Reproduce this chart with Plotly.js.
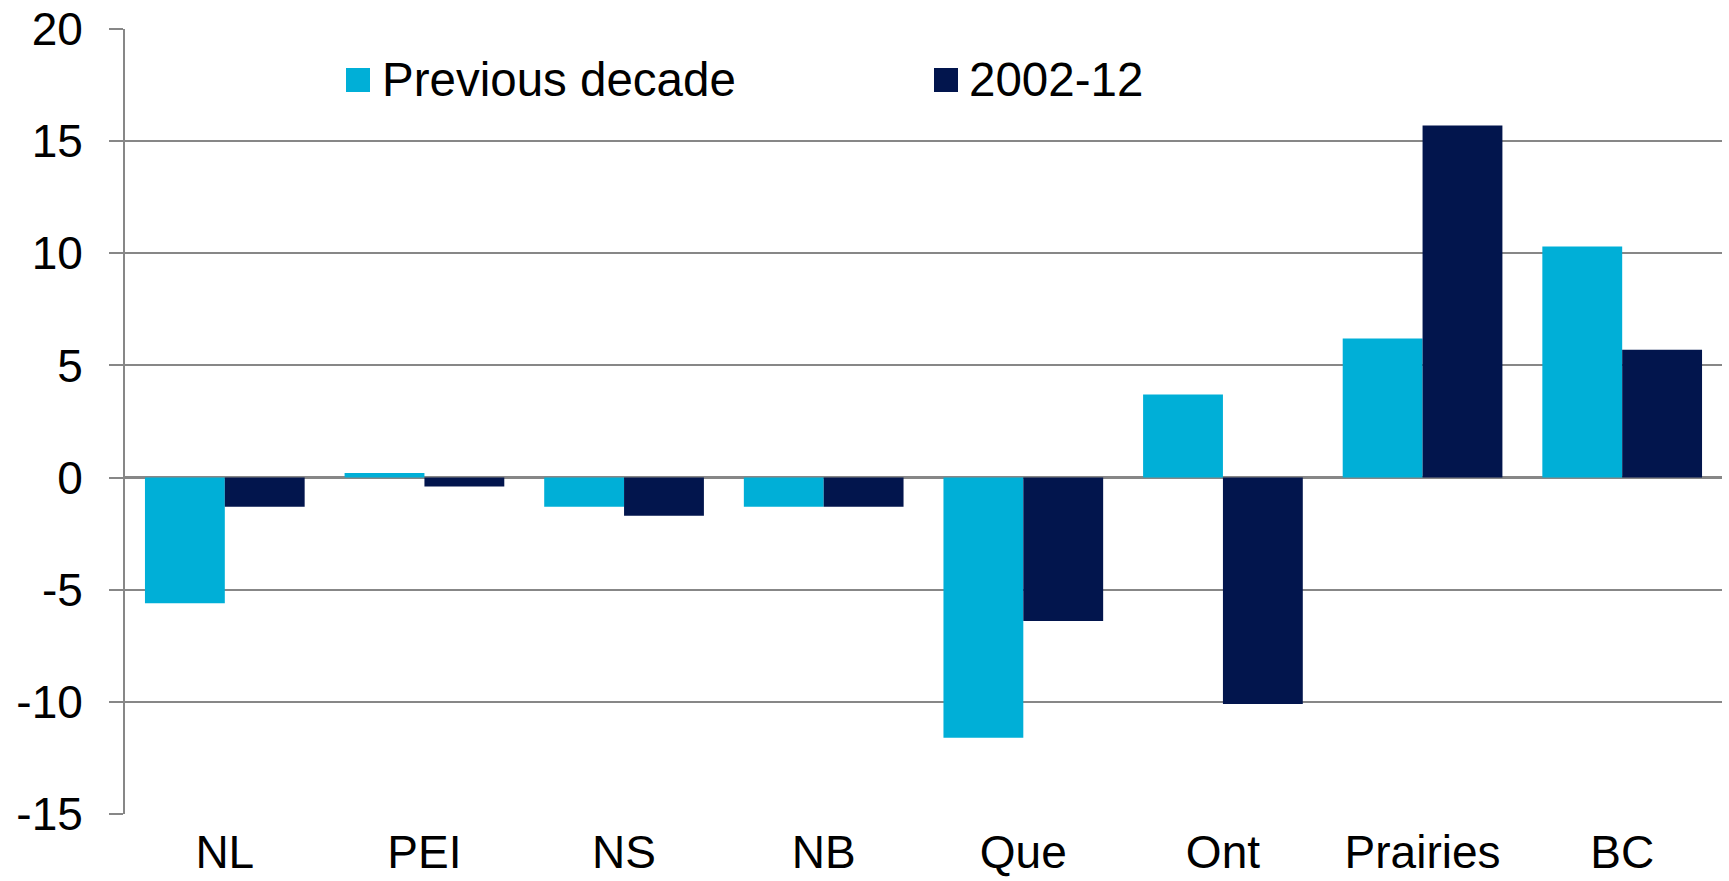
<!DOCTYPE html>
<html>
<head>
<meta charset="utf-8">
<script src="https://cdn.plot.ly/plotly-3.0.1.min.js"></script>
<style>
  html, body { margin: 0; padding: 0; background: #ffffff; }
  #chart { width: 1729px; height: 881px; }
</style>
</head>
<body>
<div id="chart"></div>
<script>
// ---- Data ----
const categories = ["NL", "PEI", "NS", "NB", "Que", "Ont", "Prairies", "BC"];
const previousDecade = [-5.6, 0.2, -1.3, -1.3, -11.6, 3.7, 6.2, 10.3];
const period2002_12 = [-1.3, -0.4, -1.7, -1.3, -6.4, -10.1, 15.7, 5.7];
const seriesNames = ["Previous decade", "2002-12"];
const yTickValues = [-15, -10, -5, 0, 5, 10, 15, 20];

// ---- Style ----
const cyan = "#00AFD7";
const navy = "#02154D";
const gridColor = "#878787";
const fontFamily = "'Liberation Sans', Arial, Helvetica, sans-serif";

const W = 1729, H = 881;
const M = { l: 125, r: 7, t: 29, b: 67 };
const plotW = W - M.l - M.r, plotH = H - M.t - M.b;
const px2x = p => (p - M.l) / plotW;
const px2y = p => (H - M.b - p) / plotH;

const traces = [
  { type: "bar", name: seriesNames[0], x: categories, y: previousDecade,
    marker: { color: cyan, line: { width: 0 } }, showlegend: false, hoverinfo: "x+y" },
  { type: "bar", name: seriesNames[1], x: categories, y: period2002_12,
    marker: { color: navy, line: { width: 0 } }, showlegend: false, hoverinfo: "x+y" }
];

// Legend drawn as paper-positioned swatches + labels
const legendItems = [
  { swatchLeft: 346, textLeft: 380, color: cyan, label: seriesNames[0] },
  { swatchLeft: 934, textLeft: 967, color: navy, label: seriesNames[1] }
];
const shapes = legendItems.map(it => ({
  type: "rect", xref: "paper", yref: "paper",
  x0: px2x(it.swatchLeft), x1: px2x(it.swatchLeft + 24),
  y0: px2y(92), y1: px2y(68),
  fillcolor: it.color, line: { width: 0 }
}));
const annotations = legendItems.map(it => ({
  xref: "paper", yref: "paper", x: px2x(it.textLeft), y: px2y(80),
  xanchor: "left", yanchor: "middle", showarrow: false,
  text: it.label, font: { family: fontFamily, size: 47.5, color: "#000000" }
}));

const layout = {
  width: W, height: H,
  margin: M,
  paper_bgcolor: "#ffffff", plot_bgcolor: "#ffffff",
  font: { family: fontFamily, size: 46, color: "#000000" },
  barmode: "group", bargap: 0.2, bargroupgap: 0,
  showlegend: false,
  xaxis: {
    type: "category", showgrid: false, zeroline: false, showline: false,
    ticks: "", ticklabelstandoff: 7,
    tickfont: { family: fontFamily, size: 46, color: "#000000" },
    fixedrange: true
  },
  yaxis: {
    range: [-15, 20], tickvals: yTickValues, ticktext: yTickValues.map(String),
    showgrid: true, gridcolor: gridColor, gridwidth: 2,
    zeroline: true, zerolinecolor: gridColor, zerolinewidth: 2.5,
    showline: true, linecolor: gridColor, linewidth: 2,
    ticks: "outside", ticklen: 14, tickcolor: gridColor, tickwidth: 2,
    ticklabelstandoff: 17,
    tickfont: { family: fontFamily, size: 46, color: "#000000" },
    fixedrange: true
  },
  shapes: shapes,
  annotations: annotations
};

Plotly.newPlot("chart", traces, layout, { displayModeBar: false, staticPlot: true });
</script>
</body>
</html>
